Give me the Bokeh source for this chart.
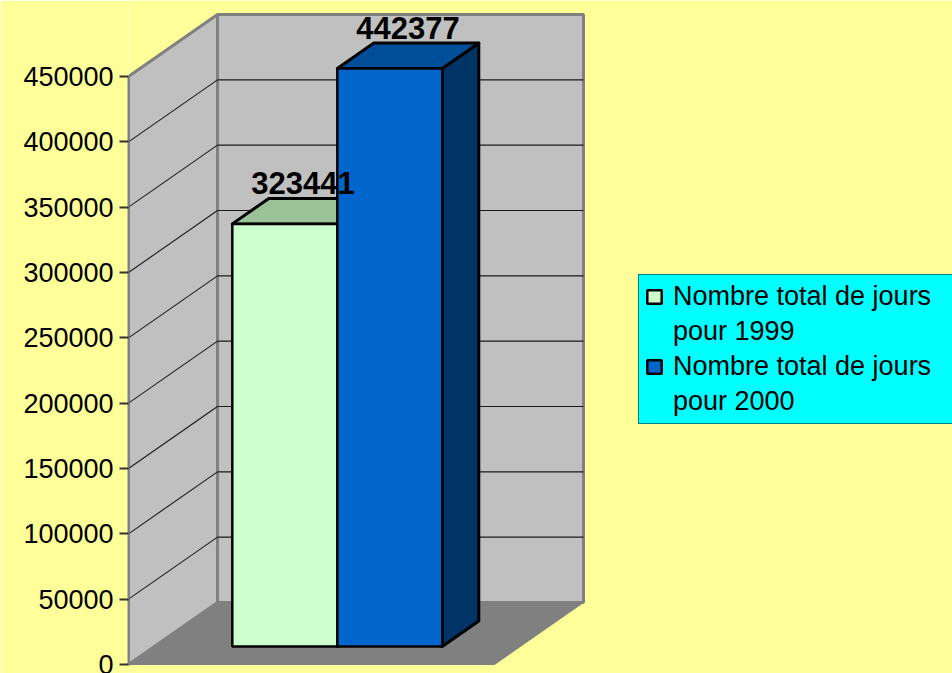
from bokeh.plotting import figure
from bokeh.models import (Range1d, LinearAxis, FixedTicker, NumeralTickFormatter,
                          Legend, LegendItem)
from bokeh.core.properties import value
from bokeh.embed import file_html
from bokeh.resources import INLINE

# ---------------- data ----------------
series_line1 = ["Nombre total de jours", "Nombre total de jours"]
series_line2 = ["pour 1999", "pour 2000"]
values = [323441, 442377]
value_labels = ["323441", "442377"]
ticks = [0, 50000, 100000, 150000, 200000, 250000, 300000, 350000, 400000, 450000]

front_colors = ["#CCFFCC", "#0066CC"]
top_colors = ["#99C299", "#004D99"]
side_colors = ["#80A880", "#003366"]

# ---------------- geometry ----------------
W, H = 952, 673
LEFT = 128                 # space for the value axis
PX_ZERO, PX_MAX = 664, 76  # canvas rows of value 0 and of the top tick
YMAX = ticks[-1]
k = YMAX / (PX_ZERO - PX_MAX)          # value units per pixel
FLOOR_W = 366                          # front width of floor (x units = px)
DEPTH_X = 89
DEPTH_Y = 62 * k
ZF, ZB = 0.29, 0.70                    # bar depth (front / back fraction)
BAR_W = 105

p = figure(width=W, height=H, output_backend="svg", toolbar_location=None,
           x_range=Range1d(0, W - LEFT),
           y_range=Range1d(-(H - PX_ZERO) * k, PX_ZERO * k),
           x_axis_location=None, y_axis_location=None,
           min_border_left=LEFT, min_border_right=0, min_border_top=0, min_border_bottom=0)
p.background_fill_color = "#FFFF99"
p.border_fill_color = "#FFFF99"
p.outline_line_color = None
p.grid.visible = False

# walls and floor
wall_gray, edge_gray = "#C0C0C0", "#808080"
p.patch([0, 0, DEPTH_X, DEPTH_X], [0, YMAX, YMAX + DEPTH_Y, DEPTH_Y],
        fill_color=wall_gray, line_color=edge_gray, line_width=3)
p.patch([DEPTH_X, DEPTH_X, FLOOR_W + DEPTH_X, FLOOR_W + DEPTH_X],
        [DEPTH_Y, YMAX + DEPTH_Y, YMAX + DEPTH_Y, DEPTH_Y],
        fill_color=wall_gray, line_color=edge_gray, line_width=3)
p.patch([0, DEPTH_X, FLOOR_W + DEPTH_X, FLOOR_W],
        [0, DEPTH_Y, DEPTH_Y, 0],
        fill_color="#808080", line_color="#808080", line_width=1)

# gridlines on side wall and back wall
g = ticks[1:-1]
p.segment(x0=[0] * len(g), y0=g, x1=[DEPTH_X] * len(g), y1=[t + DEPTH_Y for t in g],
          line_color="#1a1a1a", line_width=1.1)
p.segment(x0=[DEPTH_X] * len(g), y0=[t + DEPTH_Y for t in g],
          x1=[FLOOR_W + DEPTH_X] * len(g), y1=[t + DEPTH_Y for t in g],
          line_color="#1a1a1a", line_width=1.1)

# bars
n = len(values)
x_start = FLOOR_W / 2 - n * BAR_W / 2
fronts = []
for i, v in enumerate(values):
    x0 = x_start + i * BAR_W
    x1 = x0 + BAR_W
    # right side
    p.patch([x1 + ZF * DEPTH_X, x1 + ZB * DEPTH_X, x1 + ZB * DEPTH_X, x1 + ZF * DEPTH_X],
            [ZF * DEPTH_Y, ZB * DEPTH_Y, v + ZB * DEPTH_Y, v + ZF * DEPTH_Y],
            fill_color=side_colors[i], line_color="black", line_width=3, line_join="round")
    # top
    p.patch([x0 + ZF * DEPTH_X, x0 + ZB * DEPTH_X, x1 + ZB * DEPTH_X, x1 + ZF * DEPTH_X],
            [v + ZF * DEPTH_Y, v + ZB * DEPTH_Y, v + ZB * DEPTH_Y, v + ZF * DEPTH_Y],
            fill_color=top_colors[i], line_color="black", line_width=3, line_join="round")
    # front
    r = p.quad(left=[x0 + ZF * DEPTH_X], right=[x1 + ZF * DEPTH_X],
               bottom=[ZF * DEPTH_Y], top=[v + ZF * DEPTH_Y],
               fill_color=front_colors[i], line_color="black", line_width=2.5)
    fronts.append(r)

# data labels
lab_x = [x_start + (i + 0.5) * BAR_W + (ZF + ZB) / 2 * DEPTH_X for i in range(n)]
lab_y = [v + ZB * DEPTH_Y + 4 * k for v in values]
p.text(x=lab_x, y=lab_y, text=value_labels, text_align="center", text_baseline="bottom",
       text_font=value("Liberation Sans"), text_font_style="bold", text_font_size="31px",
       text_color="black")

# value axis
ax = LinearAxis(ticker=FixedTicker(ticks=ticks), formatter=NumeralTickFormatter(format="0"),
                bounds=(0, YMAX))
ax.axis_line_color = "#808080"
ax.axis_line_width = 2
ax.major_tick_line_color = "#333333"
ax.major_tick_line_width = 2
ax.major_tick_out = 9
ax.major_tick_in = 0
ax.minor_tick_out = 0
ax.minor_tick_in = 0
ax.major_label_standoff = 6
ax.major_label_text_font = "Liberation Sans"
ax.major_label_text_font_size = "27px"
ax.major_label_text_color = "black"
p.add_layout(ax, "left")

# legend: first line of each entry carries the swatch, second line is indented
blank = p.quad(left=[], right=[], bottom=[], top=[], fill_alpha=0, line_alpha=0)
items = []
for i in range(n):
    items.append(LegendItem(label=series_line1[i], renderers=[fronts[i]]))
    items.append(LegendItem(label=series_line2[i], renderers=[blank]))
legend = Legend(items=items, location=(510, H - 424), orientation="vertical",
                background_fill_color="#00FFFF", background_fill_alpha=1.0,
                border_line_color="black", border_line_width=1,
                label_text_font="Liberation Sans", label_text_font_size="27px",
                label_text_color="black", label_height=31,
                glyph_width=18, glyph_height=17, label_standoff=10, label_width=280,
                padding=6, spacing=4, margin=0)
p.add_layout(legend, "center")

open("out.html", "w").write(file_html(p, INLINE))
